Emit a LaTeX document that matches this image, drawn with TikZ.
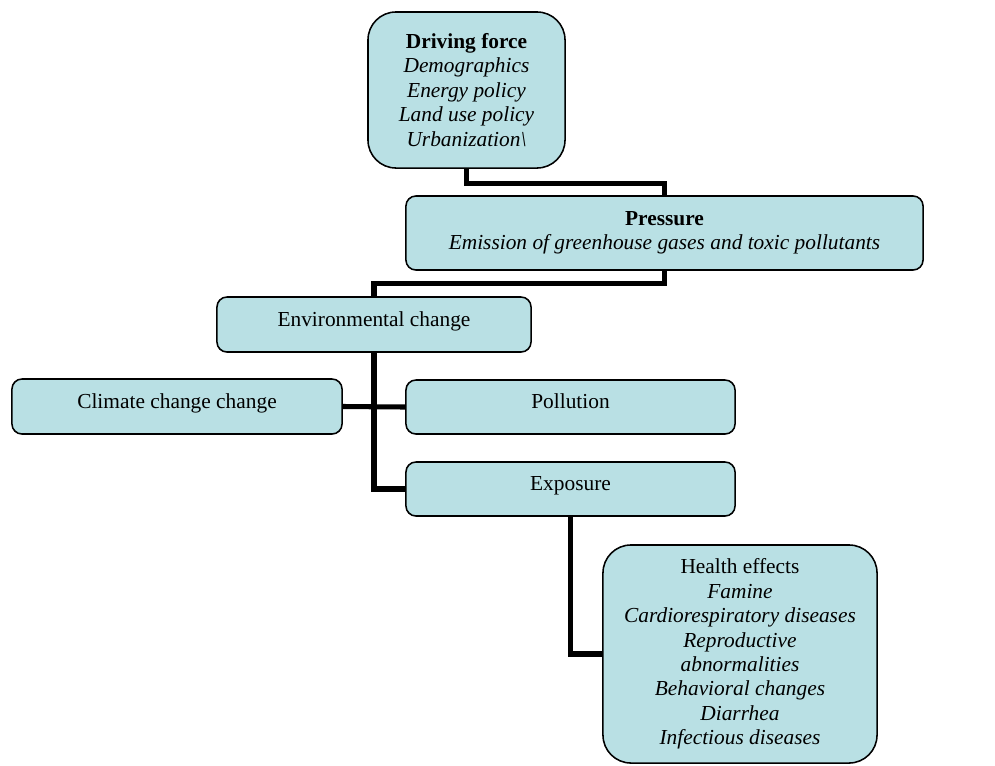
\documentclass[tikz,border=0pt]{standalone}
\usepackage{fontspec}
\setmainfont{Liberation Serif}
\usepackage{tikz}
\usetikzlibrary{positioning, calc}
\definecolor{boxblue}{RGB}{185, 224, 228}

\begin{document}
\begin{tikzpicture}[x=0.025cm, y=-0.025cm]
    \tikzstyle{block} = [rectangle, rounded corners=0.25cm, draw=black, line width=1.1pt, fill=boxblue, inner sep=0pt, align=center, font=\fontsize{15.2}{17.4}\selectfont]
    \tikzstyle{oneline} = [block, text height=0.375cm, text depth=0.3cm]
    \tikzstyle{bigblock} = [block, rounded corners=0.7cm]
    \tikzstyle{link} = [line width=3.6pt, black, line join=miter]

    \useasboundingbox (0,0) rectangle (995,765);

    \node[bigblock, minimum width=4.925cm, minimum height=3.9cm] (drive) at (466.5,90) {\textbf{Driving force}\\ \textit{Demographics}\\ \textit{Energy policy}\\ \textit{Land use policy}\\ \textit{Urbanization\textbackslash}};
    \node[block, minimum width=12.925cm, minimum height=1.85cm] (press) at (664.5,233) {\textbf{Pressure}\\ \textit{Emission of greenhouse gases and toxic pollutants}};
    \node[oneline, minimum width=7.85cm, minimum height=1.375cm] (env) at (374,324.5) {Environmental change};
    \node[oneline, minimum width=8.25cm, minimum height=1.375cm] (clim) at (177,406.5) {Climate change change};
    \node[oneline, minimum width=8.225cm, minimum height=1.35cm] (poll) at (570.5,407) {Pollution};
    \node[oneline, minimum width=8.225cm, minimum height=1.35cm] (expo) at (570.5,489) {Exposure};
    \node[bigblock, minimum width=6.85cm, minimum height=5.45cm] (health) at (740,654) {Health effects\\ \textit{Famine}\\ \textit{Cardiorespiratory diseases}\\ \textit{Reproductive}\\ \textit{abnormalities}\\ \textit{Behavioral changes}\\ \textit{Diarrhea}\\ \textit{Infectious diseases}};

    \draw[link] (drive.south) -- ++(0,14.5) -| (press.north);
    \draw[link] (press.south) -- ++(0,13) -| (env.north);
    \draw[link] (env.south) |- (expo.west);
    \draw[link] (clim.east) -- (poll.west);
    \draw[link] (expo.south) |- (health.west);
\end{tikzpicture}
\end{document}
